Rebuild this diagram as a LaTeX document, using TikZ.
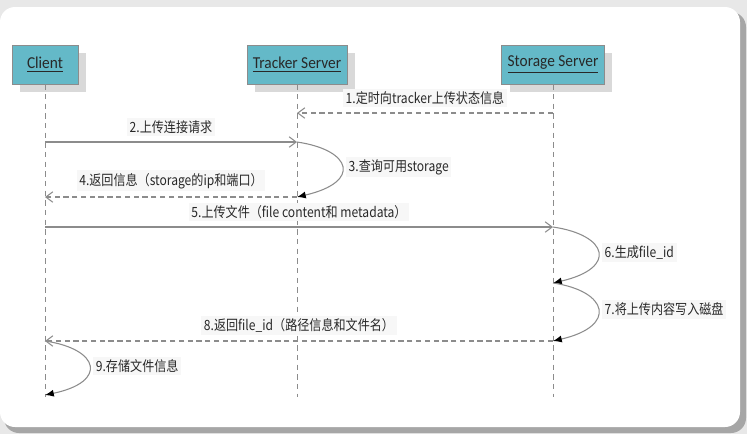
\documentclass[tikz,border=0pt]{standalone}
\usepackage{fontspec}
\setmainfont[FakeStretch=0.86]{Noto Sans CJK SC}
\newfontfamily\boxfont[FakeStretch=0.92]{Carlito}
\usetikzlibrary{arrows.meta, shadows}
\definecolor{BoxTeal}{RGB}{100,185,200}
\definecolor{LineGray}{RGB}{140,140,140}
\definecolor{TextDark}{RGB}{40,40,40}
\definecolor{PanelGray}{RGB}{232,232,232}

\tikzset{
  actor/.style={draw=LineGray, fill=BoxTeal, minimum height=0.78cm, text=TextDark,
    font=\boxfont\fontsize{9.5}{11}\selectfont,
    drop shadow={shadow xshift=0.16cm, shadow yshift=-0.16cm, fill=black!15, opacity=1}},
  lifeline/.style={draw=LineGray, line width=0.5pt, dash pattern=on 3pt off 2.5pt},
  msg/.style={draw=LineGray, line width=0.6pt, -{Straight Barb[length=4pt,width=6pt]}},
  reply/.style={msg, dash pattern=on 3pt off 2pt},
  selfcall/.style={draw=LineGray, line width=0.6pt, -{Latex[length=5pt,width=4pt,color=black]}},
  msglabel/.style={font=\fontsize{8}{10}\selectfont, text=TextDark, fill=black!3, inner sep=1.5pt}
}

\begin{document}
\begin{tikzpicture}[x=0.02cm, y=-0.02cm]
  % Frame
  \fill[PanelGray] (0,0) rectangle (747,434);
  \useasboundingbox (0,0) rectangle (747,434);
  \fill[black!35, rounded corners=0.3cm] (4,12) rectangle (746,433);
  \fill[white, rounded corners=0.3cm] (0,7) rectangle (740,427);

  % Actors
  \node[actor, minimum width=1.32cm] (client) at (45,64.5) {\underline{Client}};
  \node[actor, minimum width=1.94cm] (tracker) at (297,64.5) {\underline{Tracker Server}};
  \node[actor, minimum width=2.0cm] (storage) at (553,64.5) {\underline{Storage Server}};

  % Lifelines
  \coordinate (clientend) at (45,397);
  \coordinate (trackerend) at (297,397);
  \coordinate (storageend) at (553,397);
  \draw[lifeline] (client) -- (clientend);
  \draw[lifeline] (tracker) -- (trackerend);
  \draw[lifeline] (storage) -- (storageend);

  % Points on the lifelines
  \coordinate (s1) at (553,113);  \coordinate (t1) at (297,113);
  \coordinate (c2) at (45,142);   \coordinate (t2) at (297,142);
  \coordinate (t4) at (297,197);  \coordinate (c4) at (45,197);
  \coordinate (c5) at (45,227);   \coordinate (s5) at (553,227);
  \coordinate (s6) at (553,283);
  \coordinate (s8) at (553,341);  \coordinate (c8) at (45,341);
  \coordinate (c9) at (45,395);

  % Messages
  \draw[reply] (s1) -- node[msglabel, above=3pt] {1.定时向tracker上传状态信息} (t1);
  \draw[msg] (c2) -- node[msglabel, above=3pt] {2.上传连接请求} (t2);
  \draw[selfcall] (t2) .. controls (352,150) and (362,182) .. node[msglabel, pos=0.5, right=2pt] {3.查询可用storage} (t4);
  \draw[reply] (t4) -- node[msglabel, above=3pt] {4.返回信息（storage的ip和端口）} (c4);
  \draw[msg] (c5) -- node[msglabel, above=3pt] {5.上传文件（file content和 metadata）} (s5);
  \draw[selfcall] (s5) .. controls (608,235) and (618,268) .. node[msglabel, pos=0.5, right=2pt] {6.生成file\_id} (s6);
  \draw[selfcall] (s6) .. controls (608,291) and (618,326) .. node[msglabel, pos=0.5, right=2pt] {7.将上传内容写入磁盘} (s8);
  \draw[reply] (s8) -- node[msglabel, above=3pt] {8.返回file\_id（路径信息和文件名）} (c8);
  \draw[selfcall] (c8) .. controls (100,349) and (108,382) .. node[msglabel, pos=0.5, right=2pt] {9.存储文件信息} (c9);
\end{tikzpicture}
\end{document}
